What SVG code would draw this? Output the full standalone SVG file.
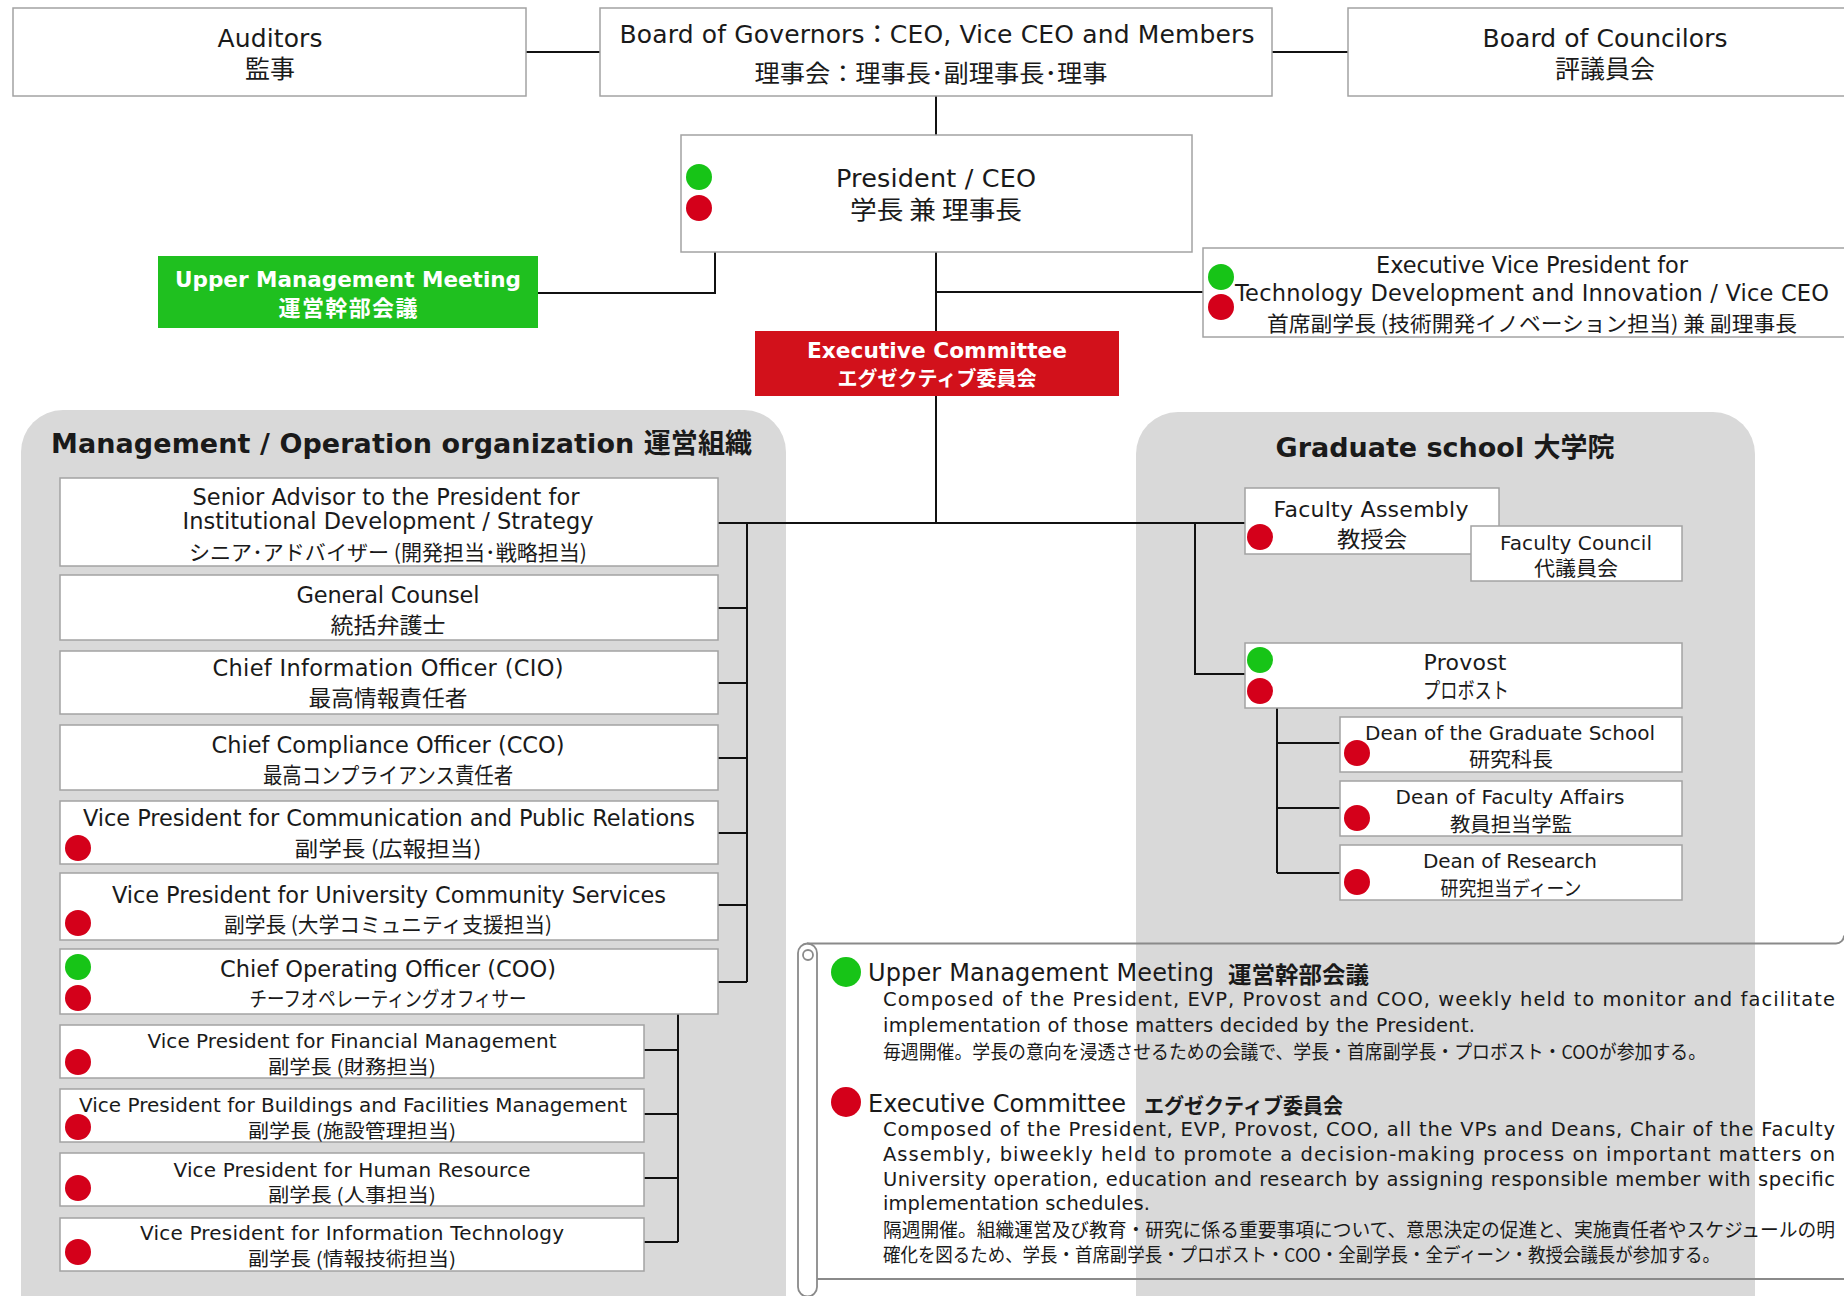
<svg xmlns="http://www.w3.org/2000/svg" width="1844" height="1296" viewBox="0 0 1844 1296">
<style>
.panel{fill:#d9d9d9}
.box{fill:#fff;stroke:#a3a3a3;stroke-width:1.5}
.pt{font-family:"DejaVu Sans","Noto Sans CJK JP",sans-serif;font-weight:bold;font-size:27px;fill:#1a1a1a;dominant-baseline:central}
.e{font-family:"DejaVu Sans","Noto Sans CJK JP",sans-serif;fill:#1a1a1a;text-anchor:middle;dominant-baseline:central}
.j{font-family:"Noto Sans CJK JP",sans-serif;fill:#1a1a1a;text-anchor:middle;dominant-baseline:central}
.w{fill:#fff;font-weight:bold}
.s{text-anchor:start}
.conn{stroke:#111;stroke-width:2;fill:none}
.gd{fill:#17c417}
.rd{fill:#d4001a}
.scroll{fill:none;stroke:#8a8a8a;stroke-width:1.8}
</style>
<rect x="0" y="0" width="1844" height="1296" fill="#fff"/>

<g id="panel-management">
<rect class="panel" x="21" y="410" width="765" height="930" rx="42"/>
<text class="pt" x="51" y="443" textLength="701">Management / Operation organization 運営組織</text>
</g>
<g id="panel-graduate">
<rect class="panel" x="1136" y="412" width="619" height="930" rx="42"/>
<text class="pt" x="1445" y="447" text-anchor="middle" textLength="339">Graduate school 大学院</text>
</g>

<g id="connectors" class="conn">
<path d="M526 52H600M1272 52H1348M936 96V135"/>
<path d="M715 252V293H538"/>
<path d="M936 252V523M936 292H1203"/>
<path d="M718 523H1245"/>
<path d="M747 523V982M718 608H747M718 683H747M718 758H747M718 833H747M718 905H747M718 982H747"/>
<path d="M678 1014V1242M644 1050H678M644 1114H678M644 1178H678M644 1242H678"/>
<path d="M1195 523V674H1245"/>
<path d="M1277 708V873M1277 743H1340M1277 808H1340M1277 873H1340"/>
</g>

<g id="auditors">
<rect class="box" x="13" y="8" width="513" height="88"/>
<text class="e" x="270" y="38" font-size="25" textLength="105">Auditors</text>
<text class="j" x="270" y="67" font-size="25">監事</text>
</g>
<g id="board-of-governors">
<rect class="box" x="600" y="8" width="672" height="88"/>
<text class="e" x="937" y="34" font-size="25" textLength="635">Board of Governors：CEO, Vice CEO and Members</text>
<text class="j" x="931" y="71" font-size="24" textLength="353" lengthAdjust="spacingAndGlyphs">理事会：理事長･副理事長･理事</text>
</g>
<g id="board-of-councilors">
<rect class="box" x="1348" y="8" width="520" height="88"/>
<text class="e" x="1605" y="38" font-size="25" textLength="245">Board of Councilors</text>
<text class="j" x="1605" y="67" font-size="25">評議員会</text>
</g>
<g id="president">
<rect class="box" x="681" y="135" width="511" height="117"/>
<circle class="gd" cx="699" cy="177" r="13"/>
<circle class="rd" cx="699" cy="208" r="13"/>
<text class="e" x="936" y="178" font-size="25.5" textLength="200">President / CEO</text>
<text class="j" x="936" y="208" font-size="25" textLength="172" lengthAdjust="spacingAndGlyphs">学長 兼 理事長</text>
</g>
<g id="upper-management-meeting">
<rect x="158" y="256" width="380" height="72" fill="#1fc01f"/>
<text class="e w" x="348" y="279" font-size="22" textLength="346" lengthAdjust="spacingAndGlyphs">Upper Management Meeting</text>
<text class="j w" x="348" y="306" font-size="22" textLength="139">運営幹部会議</text>
</g>
<g id="executive-committee">
<rect x="755" y="331" width="364" height="65" fill="#d2111b"/>
<text class="e w" x="937" y="350" font-size="21.5" textLength="260" lengthAdjust="spacingAndGlyphs">Executive Committee</text>
<text class="j w" x="937" y="377" font-size="20" textLength="199" lengthAdjust="spacingAndGlyphs">エグゼクティブ委員会</text>
</g>
<g id="evp">
<rect class="box" x="1203" y="248" width="665" height="89"/>
<circle class="gd" cx="1221" cy="277" r="13"/>
<circle class="rd" cx="1221" cy="307" r="13"/>
<text class="e" x="1532" y="265" font-size="22.5" textLength="312">Executive Vice President for</text>
<text class="e" x="1532" y="293" font-size="22.5" textLength="594">Technology Development and Innovation / Vice CEO</text>
<text class="j" x="1532" y="322" font-size="21" textLength="530" lengthAdjust="spacingAndGlyphs">首席副学長 (技術開発イノベーション担当) 兼 副理事長</text>
</g>

<g id="senior-advisor">
<rect class="box" x="60" y="478" width="658" height="88"/>
<text class="e" x="386" y="497" font-size="22.5" textLength="387">Senior Advisor to the President for</text>
<text class="e" x="388" y="521" font-size="22.5" textLength="411">Institutional Development / Strategy</text>
<text class="j" x="388" y="551" font-size="21" textLength="398" lengthAdjust="spacingAndGlyphs">シニア･アドバイザー (開発担当･戦略担当)</text>
</g>
<g id="general-counsel">
<rect class="box" x="60" y="575" width="658" height="65"/>
<text class="e" x="388" y="595" font-size="22.5" textLength="183">General Counsel</text>
<text class="j" x="388" y="623" font-size="22" textLength="115" lengthAdjust="spacingAndGlyphs">統括弁護士</text>
</g>
<g id="cio">
<rect class="box" x="60" y="651" width="658" height="63"/>
<text class="e" x="388" y="668" font-size="22.5" textLength="351">Chief Information Officer (CIO)</text>
<text class="j" x="388" y="696" font-size="22" textLength="159" lengthAdjust="spacingAndGlyphs">最高情報責任者</text>
</g>
<g id="cco">
<rect class="box" x="60" y="725" width="658" height="65"/>
<text class="e" x="388" y="745" font-size="22.5" textLength="353">Chief Compliance Officer (CCO)</text>
<text class="j" x="388" y="773" font-size="22" textLength="250" lengthAdjust="spacingAndGlyphs">最高コンプライアンス責任者</text>
</g>
<g id="vp-communication">
<rect class="box" x="60" y="801" width="658" height="63"/>
<circle class="rd" cx="78" cy="848" r="13"/>
<text class="e" x="389" y="818" font-size="22.5" textLength="612">Vice President for Communication and Public Relations</text>
<text class="j" x="388" y="847" font-size="21" textLength="187" lengthAdjust="spacingAndGlyphs">副学長 (広報担当)</text>
</g>
<g id="vp-community">
<rect class="box" x="60" y="873" width="658" height="67"/>
<circle class="rd" cx="78" cy="923" r="13"/>
<text class="e" x="389" y="895" font-size="22.5" textLength="554">Vice President for University Community Services</text>
<text class="j" x="388" y="923" font-size="21" textLength="328" lengthAdjust="spacingAndGlyphs">副学長 (大学コミュニティ支援担当)</text>
</g>
<g id="coo">
<rect class="box" x="60" y="949" width="658" height="65"/>
<circle class="gd" cx="78" cy="967" r="13"/>
<circle class="rd" cx="78" cy="998" r="13"/>
<text class="e" x="388" y="969" font-size="22.5" textLength="336">Chief Operating Officer (COO)</text>
<text class="j" x="388" y="997" font-size="21" textLength="277" lengthAdjust="spacingAndGlyphs">チーフオペレーティングオフィサー</text>
</g>
<g id="vp-financial">
<rect class="box" x="60" y="1025" width="584" height="53"/>
<circle class="rd" cx="78" cy="1062" r="13"/>
<text class="e" x="352" y="1041" font-size="20" textLength="409">Vice President for Financial Management</text>
<text class="j" x="352" y="1065" font-size="19" textLength="168" lengthAdjust="spacingAndGlyphs">副学長 (財務担当)</text>
</g>
<g id="vp-buildings">
<rect class="box" x="60" y="1089" width="584" height="53"/>
<circle class="rd" cx="78" cy="1127" r="13"/>
<text class="e" x="353" y="1105" font-size="20" textLength="548">Vice President for Buildings and Facilities Management</text>
<text class="j" x="352" y="1129" font-size="19" textLength="208" lengthAdjust="spacingAndGlyphs">副学長 (施設管理担当)</text>
</g>
<g id="vp-hr">
<rect class="box" x="60" y="1153" width="584" height="53"/>
<circle class="rd" cx="78" cy="1188" r="13"/>
<text class="e" x="352" y="1170" font-size="20" textLength="357">Vice President for Human Resource</text>
<text class="j" x="352" y="1193" font-size="19" textLength="168" lengthAdjust="spacingAndGlyphs">副学長 (人事担当)</text>
</g>
<g id="vp-it">
<rect class="box" x="60" y="1218" width="584" height="53"/>
<circle class="rd" cx="78" cy="1252" r="13"/>
<text class="e" x="352" y="1233" font-size="20" textLength="424">Vice President for Information Technology</text>
<text class="j" x="352" y="1257" font-size="19" textLength="208" lengthAdjust="spacingAndGlyphs">副学長 (情報技術担当)</text>
</g>

<g id="faculty-assembly">
<rect class="box" x="1245" y="488" width="254" height="66"/>
<circle class="rd" cx="1260" cy="537" r="13"/>
<text class="e" x="1371" y="509" font-size="22" textLength="195">Faculty Assembly</text>
<text class="j" x="1372" y="537" font-size="22" textLength="70" lengthAdjust="spacingAndGlyphs">教授会</text>
</g>
<g id="faculty-council">
<rect class="box" x="1471" y="526" width="211" height="55"/>
<text class="e" x="1576" y="543" font-size="20" textLength="152">Faculty Council</text>
<text class="j" x="1576" y="567" font-size="20" textLength="84" lengthAdjust="spacingAndGlyphs">代議員会</text>
</g>
<g id="provost">
<rect class="box" x="1245" y="643" width="437" height="65"/>
<circle class="gd" cx="1260" cy="660" r="13"/>
<circle class="rd" cx="1260" cy="691" r="13"/>
<text class="e" x="1465" y="662" font-size="22" textLength="83">Provost</text>
<text class="j" x="1466" y="688" font-size="22" textLength="86" lengthAdjust="spacingAndGlyphs">プロボスト</text>
</g>
<g id="dean-graduate-school">
<rect class="box" x="1340" y="717" width="342" height="55"/>
<circle class="rd" cx="1357" cy="753" r="13"/>
<text class="e" x="1510" y="733" font-size="20" textLength="290">Dean of the Graduate School</text>
<text class="j" x="1511" y="758" font-size="20" textLength="84" lengthAdjust="spacingAndGlyphs">研究科長</text>
</g>
<g id="dean-faculty-affairs">
<rect class="box" x="1340" y="781" width="342" height="55"/>
<circle class="rd" cx="1357" cy="818" r="13"/>
<text class="e" x="1510" y="797" font-size="20" textLength="229">Dean of Faculty Affairs</text>
<text class="j" x="1511" y="823" font-size="20" textLength="122" lengthAdjust="spacingAndGlyphs">教員担当学監</text>
</g>
<g id="dean-research">
<rect class="box" x="1340" y="845" width="342" height="55"/>
<circle class="rd" cx="1357" cy="882" r="13"/>
<text class="e" x="1510" y="861" font-size="20" textLength="174">Dean of Research</text>
<text class="j" x="1511" y="887" font-size="20" textLength="141" lengthAdjust="spacingAndGlyphs">研究担当ディーン</text>
</g>

<g id="legend">
<path class="scroll" d="M798 1287V953A9.5 9.5 0 0 1 817 953V1287A9.5 9.5 0 0 1 798 1287Z"/>
<circle class="scroll" cx="808" cy="955" r="5"/>
<path class="scroll" d="M807 943.5H1836A8 8 0 0 0 1844 935.5"/>
<path class="scroll" d="M817 1279H1844"/>
<circle class="gd" cx="846" cy="972" r="15"/>
<text class="e s" x="868" y="973" font-size="24" textLength="346">Upper Management Meeting</text>
<text class="j s" x="1228" y="973" font-size="23" font-weight="bold" textLength="141" lengthAdjust="spacingAndGlyphs">運営幹部会議</text>
<text class="e s" x="883" y="999" font-size="19.5" textLength="952">Composed of the President, EVP, Provost and COO, weekly held to monitor and facilitate</text>
<text class="e s" x="883" y="1025" font-size="19.5" textLength="592">implementation of those matters decided by the President.</text>
<text class="j s" x="883" y="1050" font-size="19" textLength="823" lengthAdjust="spacingAndGlyphs">毎週開催。学長の意向を浸透させるための会議で、学長・首席副学長・プロボスト・COOが参加する。</text>
<circle class="rd" cx="846" cy="1102" r="15"/>
<text class="e s" x="868" y="1104" font-size="24" textLength="258">Executive Committee</text>
<text class="j s" x="1144" y="1104" font-size="21" font-weight="bold" textLength="199" lengthAdjust="spacingAndGlyphs">エグゼクティブ委員会</text>
<text class="e s" x="883" y="1129" font-size="19.5" textLength="952">Composed of the President, EVP, Provost, COO, all the VPs and Deans, Chair of the Faculty</text>
<text class="e s" x="883" y="1154" font-size="19.5" textLength="952">Assembly, biweekly held to promote a decision-making process on important matters on</text>
<text class="e s" x="883" y="1179" font-size="19.5" textLength="952">University operation, education and research by assigning responsible member with specific</text>
<text class="e s" x="883" y="1203" font-size="19.5" textLength="267">implementation schedules.</text>
<text class="j s" x="883" y="1228" font-size="19" textLength="952" lengthAdjust="spacingAndGlyphs">隔週開催。組織運営及び教育・研究に係る重要事項について、意思決定の促進と、実施責任者やスケジュールの明</text>
<text class="j s" x="883" y="1253" font-size="19" textLength="837" lengthAdjust="spacingAndGlyphs">確化を図るため、学長・首席副学長・プロボスト・COO・全副学長・全ディーン・教授会議長が参加する。</text>
</g>
</svg>
